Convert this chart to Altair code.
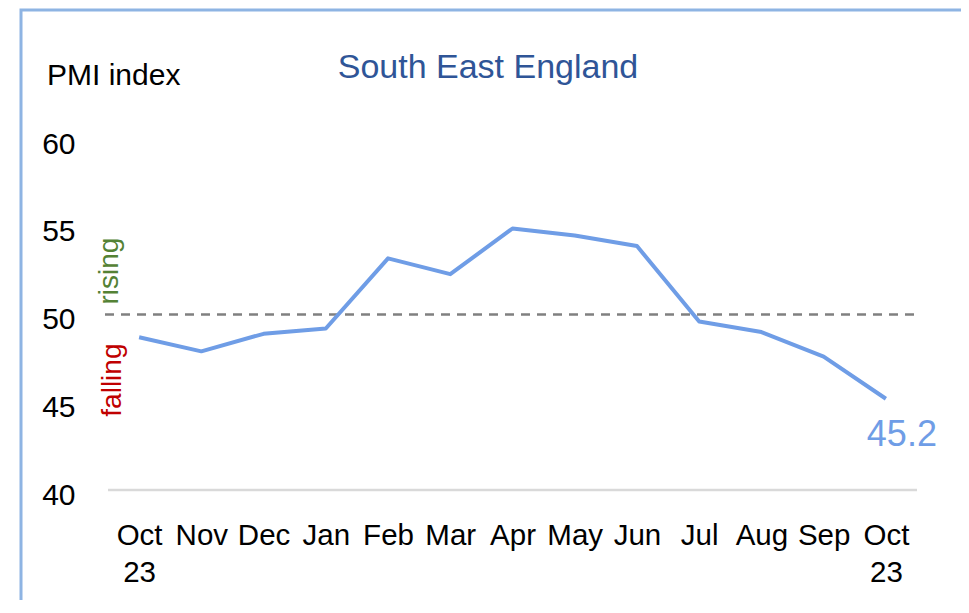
import json
import altair as alt
import pandas as pd

# ---- data ----
months = ["Oct 23", "Nov", "Dec", "Jan", "Feb", "Mar", "Apr", "May", "Jun",
          "Jul", "Aug", "Sep", "Oct 23"]
pmi = [48.7, 47.9, 48.9, 49.2, 53.2, 52.3, 54.9, 54.5, 53.9, 49.6, 49.0, 47.6, 45.2]
y_ticks = [40, 45, 50, 55, 60]
threshold = 50
last_label = "45.2"

FONT = "Liberation Sans, Arial, sans-serif"
LINE = "#6f9de6"
W, H = 809, 351

df = pd.DataFrame({"i": list(range(len(months))), "v": pmi})
label_arr = json.dumps([m.split(" ") for m in months])

yscale = alt.Scale(domain=[y_ticks[0], y_ticks[-1]], nice=False, zero=False)

base = alt.Chart(df)

line = base.mark_line(color=LINE, strokeWidth=4, strokeJoin="round").encode(
    x=alt.X("i:O", scale=alt.Scale(type="point", padding=0.5),
            axis=alt.Axis(title=None, labelAngle=0, domain=False, ticks=False, grid=False,
                          labelExpr=f"{label_arr}[datum.value]", labelFont=FONT,
                          labelFontSize=29.5, labelColor="#000000", labelBaseline="top",
                          labelPadding=31, labelLineHeight=37)),
    y=alt.Y("v:Q", scale=yscale,
            axis=alt.Axis(title=None, values=y_ticks, domain=False, ticks=False, grid=False,
                          labelFont=FONT, labelFontSize=30, labelColor="#000000",
                          labelPadding=33, labelOffset=5)),
)

end_label = base.transform_filter(f"datum.i == {len(months) - 1}").mark_text(
    text=last_label, font=FONT, fontSize=36, color=LINE, align="center",
    baseline="alphabetic", dx=16, dy=47,
).encode(x="i:O", y=alt.Y("v:Q", scale=yscale))

ref = pd.DataFrame({"v": [threshold]})
dash = alt.Chart(ref).mark_rule(color="#808080", strokeWidth=2.5, strokeDash=[9, 7]).encode(
    y=alt.Y("v:Q", scale=yscale), x=alt.value(-3), x2=alt.value(W))

base40 = alt.Chart(pd.DataFrame({"v": [y_ticks[0]]})).mark_rule(
    color="#d9d9d9", strokeWidth=2.5).encode(
    y=alt.Y("v:Q", scale=yscale), x=alt.value(0), x2=alt.value(W))

rising = alt.Chart(ref).mark_text(
    text="rising", font=FONT, fontSize=28, color="#548235", angle=270,
    align="left", baseline="alphabetic", dx=10).encode(
    y=alt.Y("v:Q", scale=yscale), x=alt.value(10))

falling = alt.Chart(ref).mark_text(
    text="falling", font=FONT, fontSize=28, color="#c00000", angle=270,
    align="right", baseline="alphabetic", dx=-29).encode(
    y=alt.Y("v:Q", scale=yscale), x=alt.value(13))

one = pd.DataFrame({"a": [0]})
title = alt.Chart(one).mark_text(
    text="South East England", font=FONT, fontSize=34, color="#2f5597",
    align="center", baseline="alphabetic").encode(x=alt.value(380), y=alt.value(-61))

ytitle = alt.Chart(one).mark_text(
    text="PMI index", font=FONT, fontSize=30, color="#000000",
    align="left", baseline="alphabetic").encode(x=alt.value(-61), y=alt.value(-54))

border = alt.Chart(one).mark_rect(filled=False, stroke="#8eb4e3", strokeWidth=3).encode(
    x=alt.value(-87), x2=alt.value(855), y=alt.value(-129), y2=alt.value(470))

chart = alt.layer(border, base40, dash, line, end_label, rising, falling, title, ytitle).properties(
    width=W, height=H,
    autosize=alt.AutoSizeParams(type="none"),
    padding={"left": 100, "top": 131, "right": 44, "bottom": 110},
    background="#ffffff",
).configure_view(stroke=None)

chart.save("out.html", embed_options={"renderer": "svg", "actions": False})
